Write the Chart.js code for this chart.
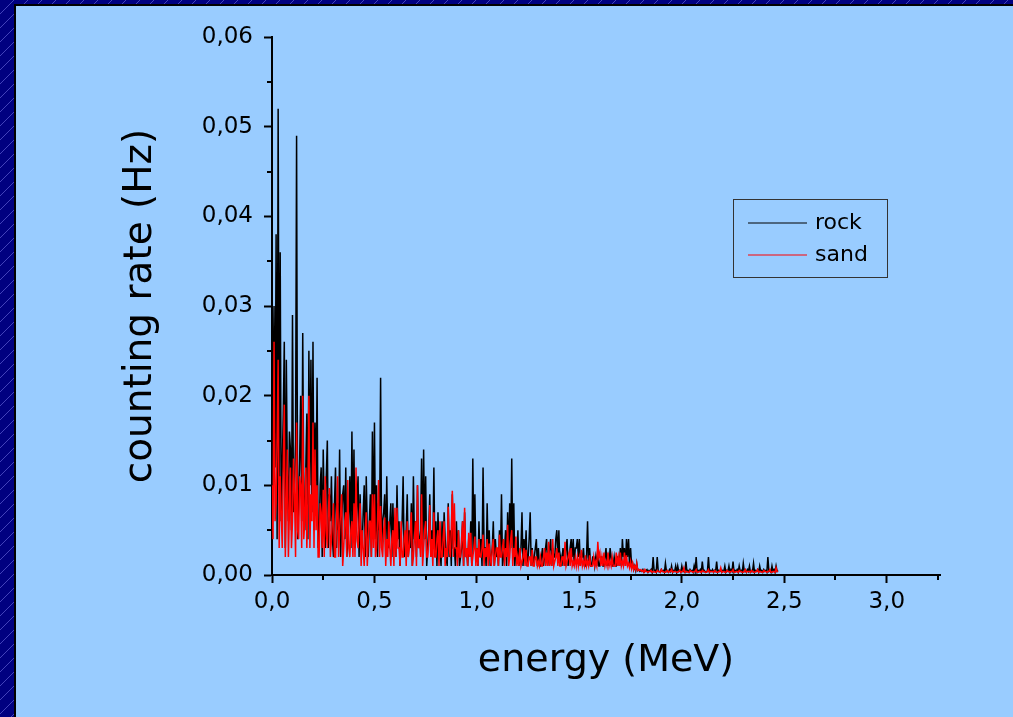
<!DOCTYPE html>
<html>
<head>
<meta charset="utf-8">
<script src="https://cdn.jsdelivr.net/npm/chart.js@4.4.1/dist/chart.umd.min.js"></script>
<style>
    html, body { margin: 0; padding: 0; background: #99ccff; overflow: hidden; }
    #spectrum { display: block; }
</style>
</head>
<body>
<canvas id="spectrum" width="1013" height="717"></canvas>
<script>
// energy bins, 0.005 MeV apart, starting at 0
const binStep = 0.005;

const rock = [
    0.008, 0.020, 0.030, 0.012, 0.038, 0.004, 0.052, 0.010, 0.036, 0.006, 0.012, 0.018, 0.026, 0.003, 0.024, 0.011, 0.006, 0.016, 0.014, 0.005,
    0.029, 0.007, 0.010, 0.015, 0.049, 0.004, 0.008, 0.013, 0.020, 0.006, 0.027, 0.009, 0.005, 0.012, 0.018, 0.004, 0.025, 0.010, 0.024, 0.007,
    0.026, 0.005, 0.017, 0.009, 0.022, 0.003, 0.004, 0.010, 0.012, 0.002, 0.014, 0.007, 0.003, 0.011, 0.015, 0.003, 0.009, 0.006, 0.011, 0.004,
    0.002, 0.008, 0.012, 0.003, 0.008, 0.005, 0.014, 0.002, 0.006, 0.009, 0.010, 0.004, 0.012, 0.002, 0.004, 0.007, 0.011, 0.003, 0.016, 0.005,
    0.014, 0.003, 0.005, 0.008, 0.011, 0.002, 0.009, 0.004, 0.003, 0.007, 0.010, 0.002, 0.011, 0.005, 0.002, 0.006, 0.009, 0.002, 0.016, 0.004,
    0.017, 0.004, 0.010, 0.002, 0.008, 0.005, 0.022, 0.003, 0.006, 0.007, 0.009, 0.002, 0.011, 0.004, 0.003, 0.006, 0.008, 0.002, 0.008, 0.003,
    0.005, 0.002, 0.010, 0.004, 0.006, 0.001, 0.004, 0.006, 0.011, 0.002, 0.003, 0.005, 0.009, 0.002, 0.005, 0.003, 0.008, 0.001, 0.011, 0.004,
    0.006, 0.002, 0.010, 0.003, 0.004, 0.005, 0.013, 0.002, 0.014, 0.004, 0.011, 0.001, 0.003, 0.005, 0.009, 0.002, 0.005, 0.003, 0.012, 0.002,
    0.006, 0.001, 0.007, 0.003, 0.003, 0.001, 0.006, 0.002, 0.007, 0.004, 0.002, 0.001, 0.008, 0.002, 0.005, 0.001, 0.009, 0.003, 0.003, 0.001,
    0.006, 0.002, 0.005, 0.001, 0.002, 0.003, 0.006, 0.001, 0.007, 0.002, 0.003, 0.001, 0.004, 0.002, 0.006, 0.001, 0.013, 0.003, 0.009, 0.002,
    0.003, 0.001, 0.006, 0.002, 0.004, 0.001, 0.012, 0.003, 0.003, 0.001, 0.008, 0.002, 0.005, 0.001, 0.002, 0.003, 0.006, 0.001, 0.004, 0.002,
    0.003, 0.001, 0.005, 0.002, 0.009, 0.001, 0.002, 0.003, 0.005, 0.001, 0.007, 0.002, 0.008, 0.003, 0.013, 0.002, 0.008, 0.001, 0.003, 0.002,
    0.005, 0.001, 0.002, 0.003, 0.007, 0.001, 0.004, 0.002, 0.005, 0.001, 0.002, 0.004, 0.007, 0.001, 0.003, 0.001, 0.002, 0.003, 0.004, 0.001,
    0.003, 0.001, 0.001, 0.002, 0.003, 0.001, 0.002, 0.003, 0.004, 0.001, 0.002, 0.003, 0.004, 0.001, 0.003, 0.002, 0.002, 0.004, 0.005, 0.002,
    0.005, 0.001, 0.002, 0.001, 0.003, 0.002, 0.001, 0.003, 0.004, 0.001, 0.002, 0.003, 0.004, 0.002, 0.004, 0.001, 0.003, 0.003, 0.004, 0.002,
    0.004, 0.001, 0.002, 0.002, 0.003, 0.001, 0.001, 0.002, 0.006, 0.001, 0.003, 0.001, 0.001, 0.002, 0.002, 0.001, 0.002, 0.001, 0.003, 0.001,
    0.001, 0.002, 0.002, 0.001, 0.001, 0.002, 0.003, 0.001, 0.002, 0.001, 0.003, 0.002, 0.001, 0.001, 0.002, 0.001, 0.001, 0.002, 0.002, 0.001,
    0.003, 0.001, 0.004, 0.002, 0.003, 0.001, 0.004, 0.002, 0.004, 0.001, 0.003, 0.001, 0.0013, 0.0006, 0.001, 0.0005, 0.0013, 0.0005, 0.0006, 0.0004,
    0.0005, 0.0004, 0.0006, 0.0003, 0.0004, 0.0005, 0.0006, 0.0003, 0.0005, 0.0004, 0.0006, 0.0003, 0.002, 0.0004, 0.0005, 0.0003, 0.002, 0.0004, 0.0004, 0.0003,
    0.0006, 0.0004, 0.0005, 0.0003, 0.0013, 0.0004, 0.0004, 0.0003, 0.0006, 0.0004, 0.001, 0.0003, 0.0005, 0.0004, 0.001, 0.0003, 0.001, 0.0004, 0.0005, 0.0003,
    0.001, 0.0004, 0.0004, 0.0003, 0.0015, 0.0004, 0.0005, 0.0003, 0.0006, 0.0004, 0.0005, 0.0003, 0.001, 0.0004, 0.002, 0.0003, 0.0005, 0.0004, 0.0006, 0.0003,
    0.0015, 0.0004, 0.0005, 0.0003, 0.0004, 0.0004, 0.002, 0.0003, 0.0005, 0.0004, 0.0006, 0.0003, 0.0005, 0.0004, 0.0015, 0.0003, 0.0005, 0.0004, 0.0006, 0.0003,
    0.0005, 0.0004, 0.001, 0.0003, 0.0005, 0.0004, 0.001, 0.0003, 0.0006, 0.0004, 0.0015, 0.0003, 0.0005, 0.0004, 0.0006, 0.0003, 0.001, 0.0004, 0.0005, 0.0003,
    0.0013, 0.0004, 0.0005, 0.0003, 0.0006, 0.0004, 0.001, 0.0003, 0.0004, 0.0004, 0.0013, 0.0003, 0.0005, 0.0004, 0.0006, 0.0003, 0.001, 0.0004, 0.0005, 0.0003,
    0.0006, 0.0004, 0.0005, 0.0003, 0.002, 0.0004, 0.0005, 0.0003, 0.001, 0.0004, 0.0006, 0.0003, 0.001, 0.0004, 0.0005
];

const sand = [
    0.010, 0.004, 0.026, 0.006, 0.008, 0.015, 0.024, 0.003, 0.011, 0.007, 0.003, 0.012, 0.019, 0.002, 0.008, 0.014, 0.002, 0.007, 0.012, 0.003,
    0.006, 0.013, 0.009, 0.002, 0.017, 0.005, 0.004, 0.011, 0.010, 0.003, 0.020, 0.004, 0.006, 0.012, 0.003, 0.008, 0.020, 0.003, 0.009, 0.006,
    0.017, 0.003, 0.014, 0.005, 0.010, 0.002, 0.002, 0.008, 0.007, 0.003, 0.0095, 0.002, 0.011, 0.005, 0.003, 0.007, 0.0097, 0.002, 0.004, 0.006,
    0.008, 0.002, 0.002, 0.006, 0.011, 0.002, 0.005, 0.007, 0.009, 0.001, 0.003, 0.006, 0.007, 0.002, 0.0106, 0.003, 0.002, 0.005, 0.006, 0.002,
    0.008, 0.002, 0.012, 0.004, 0.003, 0.006, 0.008, 0.001, 0.005, 0.003, 0.001, 0.005, 0.007, 0.001, 0.004, 0.006, 0.006, 0.002, 0.009, 0.003,
    0.009, 0.002, 0.003, 0.006, 0.0106, 0.002, 0.0077, 0.003, 0.002, 0.005, 0.0064, 0.001, 0.004, 0.002, 0.006, 0.003, 0.001, 0.004, 0.005, 0.001,
    0.0075, 0.002, 0.0075, 0.003, 0.003, 0.001, 0.006, 0.002, 0.002, 0.004, 0.005, 0.001, 0.006, 0.002, 0.003, 0.005, 0.007, 0.001, 0.002, 0.004,
    0.006, 0.001, 0.010, 0.003, 0.004, 0.002, 0.009, 0.001, 0.003, 0.005, 0.006, 0.002, 0.002, 0.004, 0.0078, 0.002, 0.004, 0.001, 0.007, 0.002,
    0.002, 0.004, 0.005, 0.001, 0.006, 0.002, 0.002, 0.004, 0.006, 0.001, 0.003, 0.002, 0.0076, 0.003, 0.002, 0.005, 0.0094, 0.002, 0.008, 0.003,
    0.003, 0.001, 0.005, 0.002, 0.002, 0.004, 0.006, 0.001, 0.0075, 0.002, 0.003, 0.001, 0.0047, 0.002, 0.0047, 0.001, 0.002, 0.003, 0.0043, 0.001,
    0.003, 0.001, 0.004, 0.002, 0.002, 0.003, 0.0045, 0.001, 0.003, 0.002, 0.004, 0.001, 0.0035, 0.002, 0.001, 0.003, 0.004, 0.001, 0.002, 0.003,
    0.003, 0.001, 0.0045, 0.002, 0.002, 0.003, 0.004, 0.001, 0.003, 0.002, 0.0056, 0.001, 0.002, 0.004, 0.005, 0.001, 0.003, 0.002, 0.0043, 0.001,
    0.002, 0.001, 0.003, 0.001, 0.0015, 0.002, 0.003, 0.001, 0.0028, 0.001, 0.001, 0.002, 0.002, 0.001, 0.0028, 0.001, 0.001, 0.002, 0.002, 0.001,
    0.0015, 0.001, 0.002, 0.001, 0.001, 0.002, 0.003, 0.001, 0.0025, 0.001, 0.0037, 0.001, 0.002, 0.001, 0.004, 0.001, 0.0015, 0.002, 0.003, 0.001,
    0.0025, 0.001, 0.001, 0.002, 0.002, 0.001, 0.0037, 0.001, 0.0015, 0.002, 0.0025, 0.001, 0.003, 0.001, 0.0015, 0.001, 0.0019, 0.001, 0.002, 0.001,
    0.0019, 0.001, 0.0028, 0.001, 0.0015, 0.001, 0.0022, 0.001, 0.0015, 0.001, 0.0022, 0.001, 0.001, 0.001, 0.002, 0.001, 0.0015, 0.001, 0.0037, 0.002,
    0.0025, 0.001, 0.002, 0.001, 0.0025, 0.001, 0.0015, 0.001, 0.0025, 0.001, 0.0015, 0.001, 0.002, 0.001, 0.001, 0.001, 0.0025, 0.001, 0.002, 0.001,
    0.0025, 0.001, 0.0015, 0.001, 0.0025, 0.001, 0.0022, 0.001, 0.0013, 0.0008, 0.0015, 0.0007, 0.0013, 0.0006, 0.001, 0.0006, 0.0013, 0.0005, 0.0006, 0.0005,
    0.0006, 0.0004, 0.0005, 0.0003, 0.0006, 0.0004, 0.0004, 0.0003, 0.0004, 0.0004, 0.0005, 0.0003, 0.0004, 0.0004, 0.0003, 0.0003, 0.0005, 0.0004, 0.0004, 0.0003,
    0.0006, 0.0004, 0.0004, 0.0003, 0.0003, 0.0004, 0.0005, 0.0003, 0.0004, 0.0004, 0.0006, 0.0003, 0.0004, 0.0004, 0.0004, 0.0003, 0.0003, 0.0004, 0.0005, 0.0003,
    0.0004, 0.0004, 0.0008, 0.0003, 0.0004, 0.0004, 0.0003, 0.0003, 0.0005, 0.0004, 0.0004, 0.0003, 0.0004, 0.0004, 0.0006, 0.0003, 0.0003, 0.0004, 0.0004, 0.0003,
    0.0005, 0.0004, 0.0004, 0.0003, 0.0003, 0.0004, 0.0006, 0.0003, 0.0004, 0.0004, 0.0004, 0.0003, 0.0005, 0.0004, 0.0003, 0.0003, 0.0004, 0.0004, 0.0008, 0.0003,
    0.0004, 0.0004, 0.0003, 0.0003, 0.0005, 0.0004, 0.0004, 0.0003, 0.0004, 0.0004, 0.0006, 0.0003, 0.0003, 0.0004, 0.0004, 0.0003, 0.0005, 0.0004, 0.0004, 0.0003,
    0.0003, 0.0004, 0.0006, 0.0003, 0.0004, 0.0004, 0.0004, 0.0003, 0.0005, 0.0004, 0.0003, 0.0003, 0.0004, 0.0004, 0.0006, 0.0003, 0.0004, 0.0004, 0.0003, 0.0003,
    0.0005, 0.0004, 0.0004, 0.0003, 0.0004, 0.0004, 0.0006, 0.0003, 0.0003, 0.0004, 0.0004, 0.0003, 0.0008, 0.0004, 0.0004
];

const xTicks = [0, 0.5, 1.0, 1.5, 2.0, 2.5, 3.0];
const yTicks = [0, 0.01, 0.02, 0.03, 0.04, 0.05, 0.06];
const xMinor = [0.25, 0.75, 1.25, 1.75, 2.25, 2.75, 3.25];
const yMinor = [0.005, 0.015, 0.025, 0.035, 0.045, 0.055];

const toPoints = (arr) => arr.map((v, i) => ({ x: i * binStep, y: v }));
const comma = (v, d) => v.toFixed(d).replace('.', ',');

const font = 'DejaVu Sans';

// slide frame: hatched navy edge with the light blue panel
const frame = {
    id: 'frame',
    beforeDraw(chart) {
        const c = chart.ctx;
        const w = chart.width, h = chart.height;
        c.save();
        c.fillStyle = '#000080';
        c.fillRect(0, 0, w, h);
        c.strokeStyle = 'rgba(120, 120, 235, 0.55)';
        c.lineWidth = 1;
        c.beginPath();
        for (let k = -h; k < w; k += 14) {
            c.moveTo(k, h); c.lineTo(k + h, 0);
        }
        c.stroke();
        c.fillStyle = '#000';
        c.fillRect(14, 4, w - 14, h - 4);
        c.fillStyle = '#99ccff';
        c.fillRect(16, 6, w - 16, h - 6);
        c.restore();
    }
};

// minor tick marks and the boxed legend
const extras = {
    id: 'extras',
    afterDraw(chart) {
        const c = chart.ctx;
        const xs = chart.scales.x, ys = chart.scales.y;
        c.save();
        c.strokeStyle = '#000';
        c.lineWidth = 2;
        c.beginPath();
        xMinor.forEach(v => {
            if (v > xs.max) return;
            const px = Math.round(xs.getPixelForValue(v));
            c.moveTo(px, ys.bottom); c.lineTo(px, ys.bottom + 5);
        });
        yMinor.forEach(v => {
            const py = Math.round(ys.getPixelForValue(v));
            c.moveTo(xs.left, py); c.lineTo(xs.left - 5, py);
        });
        c.stroke();

        // legend box
        c.lineWidth = 1;
        c.strokeStyle = '#333';
        c.strokeRect(733.5, 199.5, 154, 78);
        c.font = '22px "' + font + '"';
        c.textBaseline = 'middle';
        c.fillStyle = '#000';
        chart.data.datasets.forEach((ds, i) => {
            const y = 223 + i * 32;
            c.strokeStyle = ds.borderColor;
            c.beginPath();
            c.moveTo(748, y); c.lineTo(807, y);
            c.stroke();
            c.fillText(ds.label, 815, y);
        });
        c.restore();
    }
};

const spectrum = new Chart(document.getElementById('spectrum'), {
    type: 'line',
    data: {
        datasets: [{
            label: 'rock',
            data: toPoints(rock),
            borderColor: '#000000',
            borderWidth: 1.5,
            pointRadius: 0,
            order: 2
        }, {
            label: 'sand',
            data: toPoints(sand),
            borderColor: '#ff0000',
            borderWidth: 1.5,
            pointRadius: 0,
            order: 1
        }]
    },
    options: {
        responsive: false,
        animation: false,
        devicePixelRatio: 1,
        layout: { padding: { left: 117, top: 37, right: 73, bottom: 33 } },
        plugins: { legend: { display: false }, tooltip: { enabled: false } },
        scales: {
            x: {
                type: 'linear',
                min: 0,
                max: 3.26,
                afterBuildTicks: (s) => { s.ticks = xTicks.map(v => ({ value: v })); },
                afterFit: (s) => { s.height = 109; },
                border: { color: '#000', width: 2 },
                grid: { drawOnChartArea: false, tickLength: 8, tickColor: '#000', tickWidth: 2 },
                ticks: {
                    color: '#000',
                    padding: 5,
                    maxRotation: 0,
                    font: { family: font, size: 23 },
                    callback: (v) => comma(v, 1)
                },
                title: {
                    display: true,
                    text: 'energy (MeV)',
                    color: '#000',
                    padding: 0,
                    font: { family: font, size: 38, lineHeight: 1.2 }
                }
            },
            y: {
                min: 0,
                max: 0.06,
                afterBuildTicks: (s) => { s.ticks = yTicks.map(v => ({ value: v })); },
                afterFit: (s) => { s.width = 155; },
                border: { color: '#000', width: 2 },
                grid: { drawOnChartArea: false, tickLength: 8, tickColor: '#000', tickWidth: 2 },
                ticks: {
                    color: '#000',
                    padding: 11,
                    font: { family: font, size: 23 },
                    callback: (v) => comma(v, 2)
                },
                title: {
                    display: true,
                    text: 'counting rate (Hz)',
                    color: '#000',
                    padding: 0,
                    font: { family: font, size: 39, lineHeight: 1.2 }
                }
            }
        }
    },
    plugins: [frame, extras]
});
</script>
</body>
</html>
